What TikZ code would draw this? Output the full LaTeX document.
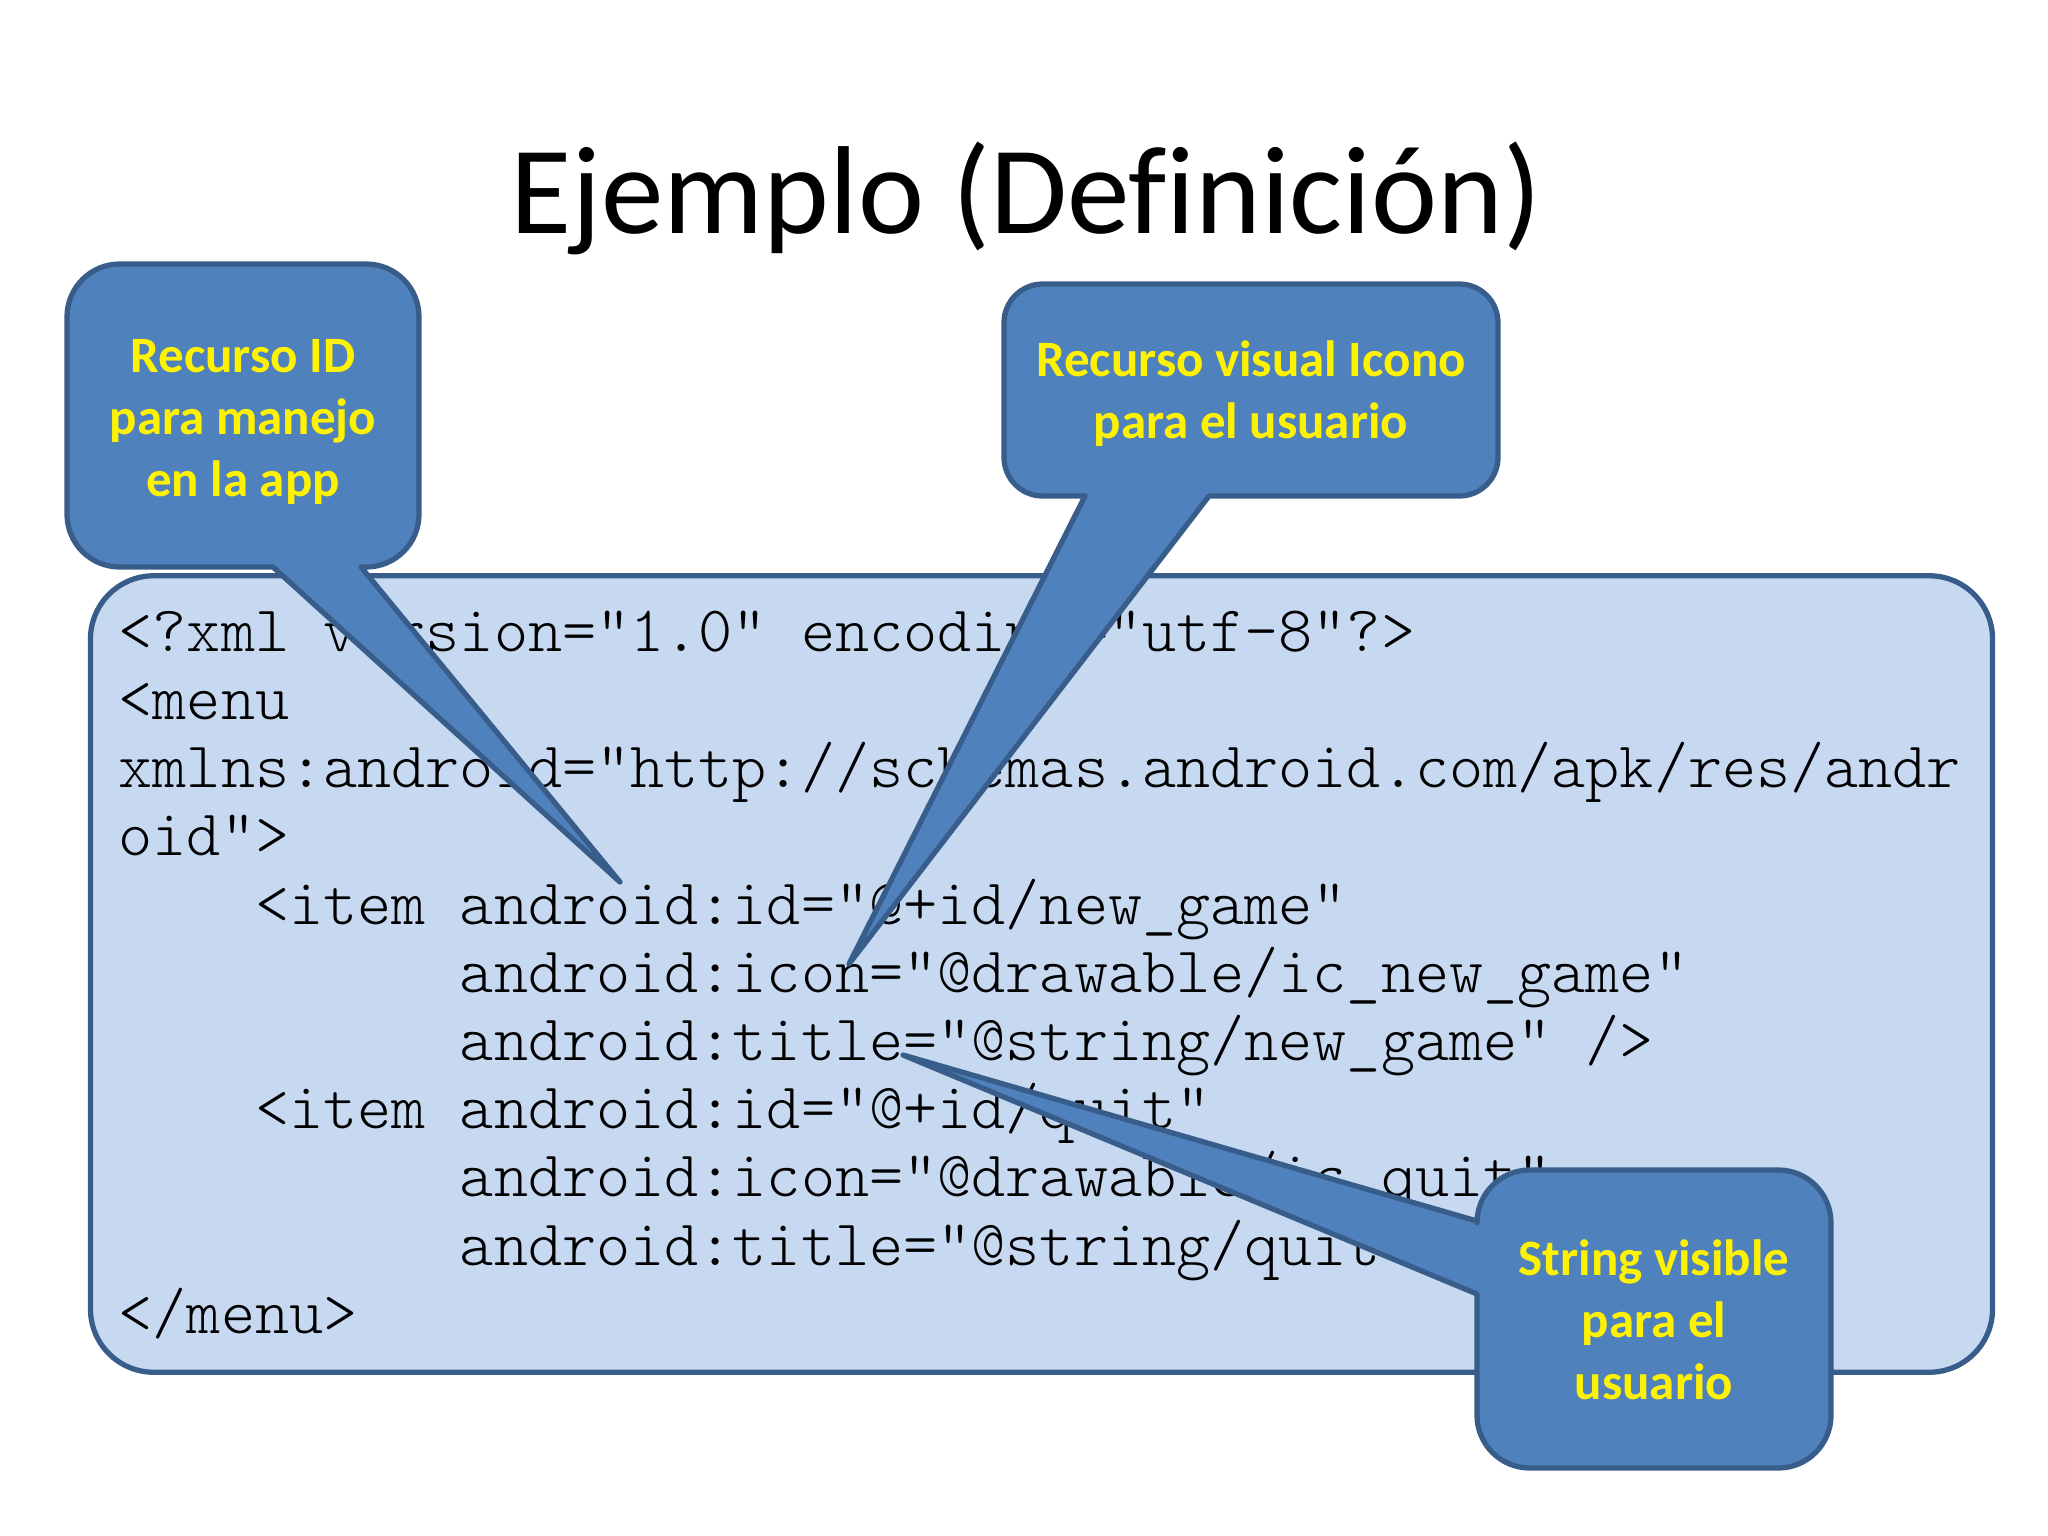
\documentclass[tikz,border=0pt]{standalone}
\usepackage{fontspec}
\setmainfont[Ligatures=NoCommon]{Carlito}
\newfontfamily\codefont{Latin Modern Mono Light}
\tikzset{
    panelbox/.style={draw=calloutedge, fill=panelblue, line width=1.5pt, rounded corners=18pt, minimum width=19.01cm, minimum height=7.96cm},
    calloutshape/.style={draw=calloutedge, fill=calloutblue, line width=1.5pt, line join=round},
    calloutlabel/.style={text=yellow, align=center, font=\fontsize{14.5}{17.6}\selectfont\bfseries},
}
\definecolor{calloutblue}{HTML}{4F81BD}
\definecolor{calloutedge}{HTML}{385D8A}
\definecolor{panelblue}{HTML}{C6D9F1}
\newcommand{\spaces}[1]{\hspace*{#1\fontcharwd\font`x}}
\begin{document}
\begin{tikzpicture}[x=0.01cm, y=-0.01cm]
    \useasboundingbox (0,0) rectangle (2048,1536);
    \node[font=\fontsize{35.6}{42}\selectfont] (title) at (1026,198) {Ejemplo (Definición)};
    \node[panelbox] (panel) at (1041.5,974) {};
    \node[anchor=north west, inner sep=0pt, align=left, font=\codefont\fontsize{18.48}{19.4}\selectfont] (code) at (118,610) {%
        <?xml version="1.0" encoding="utf-8"?>\\
        <menu\\
        xmlns:android="http://schemas.android.com/apk/res/andr\\
        oid">\\
        \spaces{4}<item android:id="@+id/new\_game"\\
        \spaces{10}android:icon="@drawable/ic\_new\_game"\\
        \spaces{10}android:title="@string/new\_game" />\\
        \spaces{4}<item android:id="@+id/quit"\\
        \spaces{10}android:icon="@drawable/ic\_quit"\\
        \spaces{10}android:title="@string/quit" />\\
        </menu>};
    \draw[calloutshape] (273,567) [rounded corners=15pt] -- (67,567) -- (67,264) -- (419,264) -- (419,567) [sharp corners] -- (361,567) -- (620,882) -- cycle;
    \draw[calloutshape] (1085,496) [rounded corners=11pt] -- (1004,496) -- (1004,284) -- (1498,284) -- (1498,496) [sharp corners] -- (1209,496) -- (849,964) -- cycle;
    \draw[calloutshape] (1477,1221) -- (903,1055) -- (1477,1294) [rounded corners=15pt] -- (1477,1468) -- (1831,1468) -- (1831,1170) -- (1477,1170) [sharp corners] -- cycle;
    \node[calloutlabel] (idlabel) at (243,422) {Recurso ID\\para manejo\\en la app};
    \node[calloutlabel] (iconlabel) at (1251,394) {Recurso visual Icono\\para el usuario};
    \node[calloutlabel] (stringlabel) at (1654,1320) {String visible\\para el\\usuario};
\end{tikzpicture}
\end{document}
